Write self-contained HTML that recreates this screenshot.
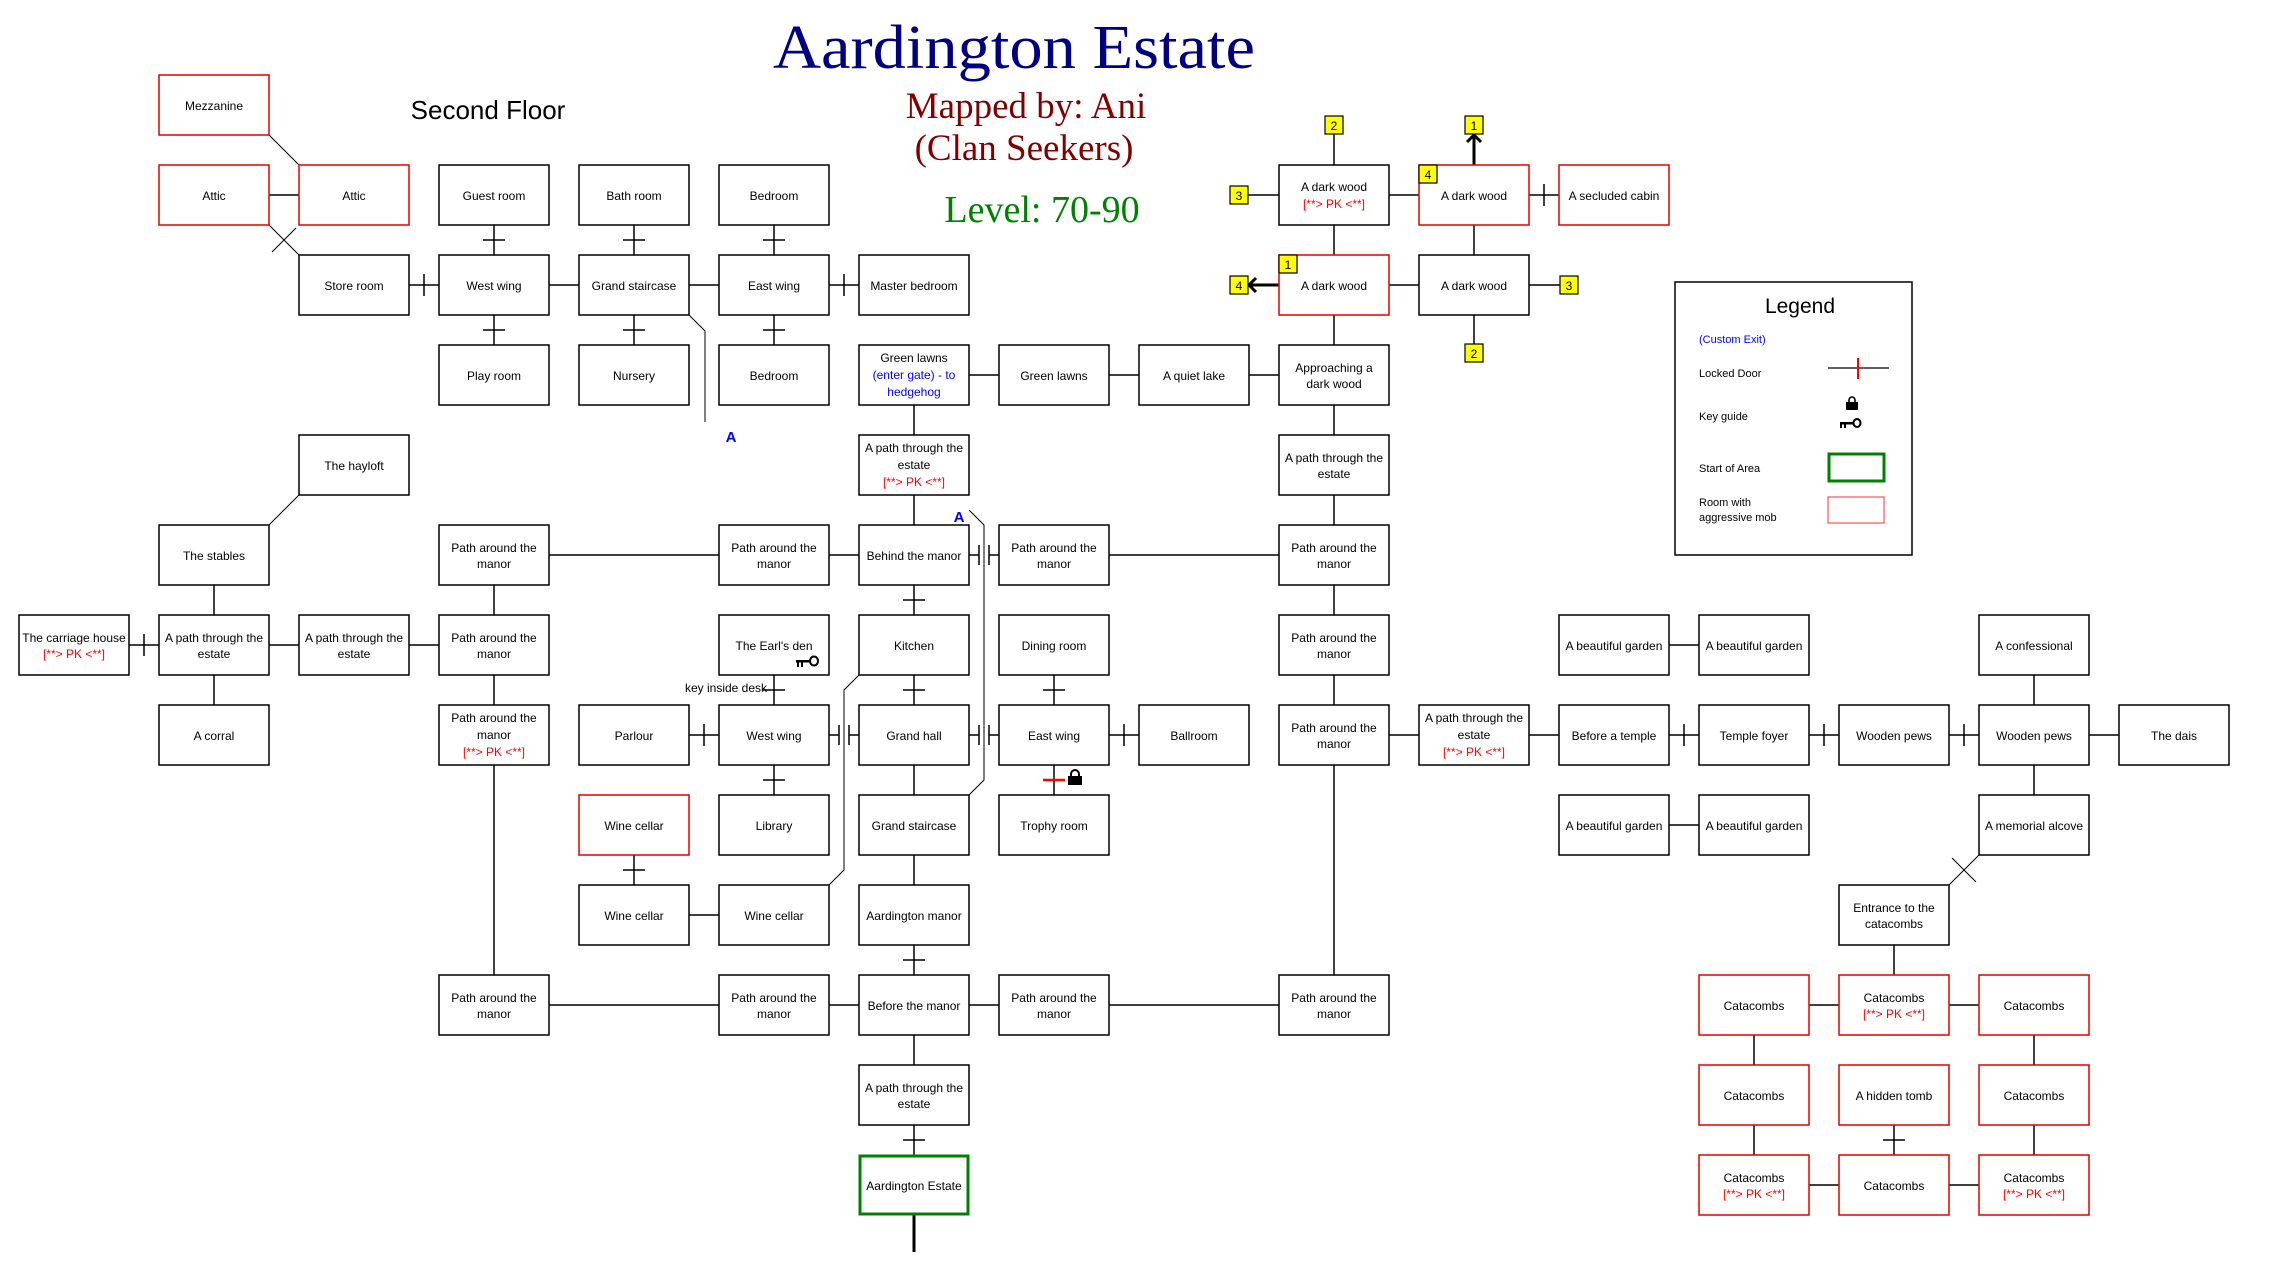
<!DOCTYPE html>
<html><head><meta charset="utf-8"><style>
html,body{margin:0;padding:0;background:#fff;}
svg{display:block;}
.b{fill:#fff;stroke:#000;stroke-width:1.5}
.r{fill:#fff;stroke:#e00000;stroke-width:1.5}
.t{font-family:"Liberation Sans",sans-serif;font-size:12px;text-anchor:middle;fill:#000}
.pk{fill:#f00}
.bl{fill:#00f}
.l{stroke:#000;stroke-width:1.5;fill:none}
.d{stroke:#000;stroke-width:1;fill:none}
.y{fill:#ff0;stroke:#000;stroke-width:1.2}
.yt{font-family:"Liberation Sans",sans-serif;font-size:12px;text-anchor:middle}
</style></head><body>
<svg width="2271" height="1281" viewBox="0 0 2271 1281" xmlns="http://www.w3.org/2000/svg">
<!-- titles -->
<text x="1014" y="68" text-anchor="middle" font-family="Liberation Serif,serif" font-size="62" fill="#000080" textLength="482" lengthAdjust="spacingAndGlyphs">Aardington Estate</text>
<text x="1026" y="118" text-anchor="middle" font-family="Liberation Serif,serif" font-size="37" fill="#800000">Mapped by: Ani</text>
<text x="1024" y="160" text-anchor="middle" font-family="Liberation Serif,serif" font-size="37" fill="#800000">(Clan Seekers)</text>
<text x="1042" y="222" text-anchor="middle" font-family="Liberation Serif,serif" font-size="38" fill="#008000">Level: 70-90</text>
<text x="488" y="119" text-anchor="middle" font-family="Liberation Sans,sans-serif" font-size="26" fill="#000">Second Floor</text>

<!-- connectors -->
<g class="l">
<path d="M269 195H299M1389 195H1419M1529 195H1559M1544 184V206"/>
<path d="M409 285H439M424 274V296M549 285H579M689 285H719M829 285H859M844 274V296M1389 285H1419"/>
<path d="M969 375H999M1109 375H1139M1249 375H1279"/>
<path d="M549 555H719M829 555H859M969 555H979M979 545V565M989 545V565M989 555H999M1109 555H1279"/>
<path d="M129 645H159M144 634V656M269 645H299M409 645H439M1669 645H1699"/>
<path d="M689 735H719M704 724V746M829 735H839M839 725V745M849 725V745M849 735H859M969 735H979M979 725V745M989 725V745M989 735H999M1109 735H1139M1124 724V746M1389 735H1419M1529 735H1559M1669 735H1699M1684 724V746M1809 735H1839M1824 724V746M1949 735H1979M1964 724V746M2089 735H2119"/>
<path d="M1669 825H1699M689 915H719"/>
<path d="M549 1005H719M829 1005H859M969 1005H999M1109 1005H1279M1809 1005H1839M1949 1005H1979"/>
<path d="M1809 1185H1839M1949 1185H1979"/>
<path d="M214 585V615M214 675V705"/>
<path d="M494 225V255M483 240H505M494 315V345M483 330H505M494 585V615M494 675V705M494 765V975"/>
<path d="M634 225V255M623 240H645M634 315V345M623 330H645M634 855V885M623 870H645"/>
<path d="M774 225V255M763 240H785M774 315V345M763 330H785M774 675V705M763 690H785M774 765V795M763 780H785"/>
<path d="M914 405V435M914 495V525M914 585V615M903 600H925M914 675V705M903 690H925M914 765V795M914 855V885M914 945V975M903 960H925M914 1035V1065M914 1125V1155M903 1140H925"/>
<path d="M1054 675V705M1043 690H1065M1054 765V795"/>
<path d="M1334 134V165M1334 225V255M1334 315V345M1334 405V435M1334 495V525M1334 585V615M1334 675V705M1334 765V975"/>
<path d="M1474 225V255M1474 315V344M1248 195H1279M1529 285H1560"/>
<path d="M1754 1035V1065M1754 1125V1155M1894 945V975M1894 1125V1155M1883 1140H1905M2034 675V705M2034 765V795M2034 1035V1065M2034 1125V1155"/>
</g>
<path d="M914 1215V1252" stroke="#000" stroke-width="3"/>
<path d="M1043 780H1065" stroke="#f00" stroke-width="2.5"/>
<g class="d">
<path d="M269 135L299 165M269 225L299 255M272 228L296 252M272 252L296 228"/>
<path d="M299 495L269 525"/>
<path d="M1979 855L1949 885M1952 858L1976 882M1952 882L1976 858"/>
<path d="M689 315L705 331V422"/>
<path d="M969 510L984 525V780L969 795"/>
<path d="M859 675L844 690V870L829 885"/>
</g>
<text x="731" y="442" text-anchor="middle" font-family="Liberation Sans,sans-serif" font-size="15" font-weight="bold" fill="#00f">A</text>
<text x="959" y="522" text-anchor="middle" font-family="Liberation Sans,sans-serif" font-size="15" font-weight="bold" fill="#00f">A</text>
<text x="726" y="692" text-anchor="middle" class="t" style="font-size:12px">key inside desk</text>

<path d="M1474 165V136M1467 142L1474 135L1481 142" stroke="#000" stroke-width="3" fill="none"/>
<path d="M1279 285H1250M1256 278L1249 285L1256 292" stroke="#000" stroke-width="3" fill="none"/>

<rect x="159" y="75" width="110" height="60" class="r"/><text x="214" y="110" class="t">Mezzanine</text>
<rect x="159" y="165" width="110" height="60" class="r"/><text x="214" y="200" class="t">Attic</text>
<rect x="299" y="165" width="110" height="60" class="r"/><text x="354" y="200" class="t">Attic</text>
<rect x="439" y="165" width="110" height="60" class="b"/><text x="494" y="200" class="t">Guest room</text>
<rect x="579" y="165" width="110" height="60" class="b"/><text x="634" y="200" class="t">Bath room</text>
<rect x="719" y="165" width="110" height="60" class="b"/><text x="774" y="200" class="t">Bedroom</text>
<rect x="1279" y="165" width="110" height="60" class="b"/><text x="1334" y="191" class="t">A dark wood</text><text x="1334" y="208" class="t pk">[**&gt; PK &lt;**]</text>
<rect x="1419" y="165" width="110" height="60" class="r"/><text x="1474" y="200" class="t">A dark wood</text>
<rect x="1559" y="165" width="110" height="60" class="r"/><text x="1614" y="200" class="t">A secluded cabin</text>

<rect x="299" y="255" width="110" height="60" class="b"/><text x="354" y="290" class="t">Store room</text>
<rect x="439" y="255" width="110" height="60" class="b"/><text x="494" y="290" class="t">West wing</text>
<rect x="579" y="255" width="110" height="60" class="b"/><text x="634" y="290" class="t">Grand staircase</text>
<rect x="719" y="255" width="110" height="60" class="b"/><text x="774" y="290" class="t">East wing</text>
<rect x="859" y="255" width="110" height="60" class="b"/><text x="914" y="290" class="t">Master bedroom</text>
<rect x="1279" y="255" width="110" height="60" class="r"/><text x="1334" y="290" class="t">A dark wood</text>
<rect x="1419" y="255" width="110" height="60" class="b"/><text x="1474" y="290" class="t">A dark wood</text>

<rect x="439" y="345" width="110" height="60" class="b"/><text x="494" y="380" class="t">Play room</text>
<rect x="579" y="345" width="110" height="60" class="b"/><text x="634" y="380" class="t">Nursery</text>
<rect x="719" y="345" width="110" height="60" class="b"/><text x="774" y="380" class="t">Bedroom</text>
<rect x="859" y="345" width="110" height="60" class="b"/><text x="914" y="362" class="t">Green lawns</text><text x="914" y="379" class="t bl">(enter gate) - to</text><text x="914" y="396" class="t bl">hedgehog</text>
<rect x="999" y="345" width="110" height="60" class="b"/><text x="1054" y="380" class="t">Green lawns</text>
<rect x="1139" y="345" width="110" height="60" class="b"/><text x="1194" y="380" class="t">A quiet lake</text>
<rect x="1279" y="345" width="110" height="60" class="b"/><text x="1334" y="372" class="t">Approaching a</text><text x="1334" y="388" class="t">dark wood</text>

<rect x="299" y="435" width="110" height="60" class="b"/><text x="354" y="470" class="t">The hayloft</text>
<rect x="859" y="435" width="110" height="60" class="b"/><text x="914" y="452" class="t">A path through the</text><text x="914" y="469" class="t">estate</text><text x="914" y="486" class="t pk">[**&gt; PK &lt;**]</text>
<rect x="1279" y="435" width="110" height="60" class="b"/><text x="1334" y="462" class="t">A path through the</text><text x="1334" y="478" class="t">estate</text>

<rect x="159" y="525" width="110" height="60" class="b"/><text x="214" y="560" class="t">The stables</text>
<rect x="439" y="525" width="110" height="60" class="b"/><text x="494" y="552" class="t">Path around the</text><text x="494" y="568" class="t">manor</text>
<rect x="719" y="525" width="110" height="60" class="b"/><text x="774" y="552" class="t">Path around the</text><text x="774" y="568" class="t">manor</text>
<rect x="859" y="525" width="110" height="60" class="b"/><text x="914" y="560" class="t">Behind the manor</text>
<rect x="999" y="525" width="110" height="60" class="b"/><text x="1054" y="552" class="t">Path around the</text><text x="1054" y="568" class="t">manor</text>
<rect x="1279" y="525" width="110" height="60" class="b"/><text x="1334" y="552" class="t">Path around the</text><text x="1334" y="568" class="t">manor</text>

<rect x="19" y="615" width="110" height="60" class="b"/><text x="74" y="642" class="t">The carriage house</text><text x="74" y="658" class="t pk">[**&gt; PK &lt;**]</text>
<rect x="159" y="615" width="110" height="60" class="b"/><text x="214" y="642" class="t">A path through the</text><text x="214" y="658" class="t">estate</text>
<rect x="299" y="615" width="110" height="60" class="b"/><text x="354" y="642" class="t">A path through the</text><text x="354" y="658" class="t">estate</text>
<rect x="439" y="615" width="110" height="60" class="b"/><text x="494" y="642" class="t">Path around the</text><text x="494" y="658" class="t">manor</text>
<rect x="719" y="615" width="110" height="60" class="b"/><text x="774" y="650" class="t">The Earl's den</text>
<rect x="859" y="615" width="110" height="60" class="b"/><text x="914" y="650" class="t">Kitchen</text>
<rect x="999" y="615" width="110" height="60" class="b"/><text x="1054" y="650" class="t">Dining room</text>
<rect x="1279" y="615" width="110" height="60" class="b"/><text x="1334" y="642" class="t">Path around the</text><text x="1334" y="658" class="t">manor</text>
<rect x="1559" y="615" width="110" height="60" class="b"/><text x="1614" y="650" class="t">A beautiful garden</text>
<rect x="1699" y="615" width="110" height="60" class="b"/><text x="1754" y="650" class="t">A beautiful garden</text>
<rect x="1979" y="615" width="110" height="60" class="b"/><text x="2034" y="650" class="t">A confessional</text>

<rect x="159" y="705" width="110" height="60" class="b"/><text x="214" y="740" class="t">A corral</text>
<rect x="439" y="705" width="110" height="60" class="b"/><text x="494" y="722" class="t">Path around the</text><text x="494" y="739" class="t">manor</text><text x="494" y="756" class="t pk">[**&gt; PK &lt;**]</text>
<rect x="579" y="705" width="110" height="60" class="b"/><text x="634" y="740" class="t">Parlour</text>
<rect x="719" y="705" width="110" height="60" class="b"/><text x="774" y="740" class="t">West wing</text>
<rect x="859" y="705" width="110" height="60" class="b"/><text x="914" y="740" class="t">Grand hall</text>
<rect x="999" y="705" width="110" height="60" class="b"/><text x="1054" y="740" class="t">East wing</text>
<rect x="1139" y="705" width="110" height="60" class="b"/><text x="1194" y="740" class="t">Ballroom</text>
<rect x="1279" y="705" width="110" height="60" class="b"/><text x="1334" y="732" class="t">Path around the</text><text x="1334" y="748" class="t">manor</text>
<rect x="1419" y="705" width="110" height="60" class="b"/><text x="1474" y="722" class="t">A path through the</text><text x="1474" y="739" class="t">estate</text><text x="1474" y="756" class="t pk">[**&gt; PK &lt;**]</text>
<rect x="1559" y="705" width="110" height="60" class="b"/><text x="1614" y="740" class="t">Before a temple</text>
<rect x="1699" y="705" width="110" height="60" class="b"/><text x="1754" y="740" class="t">Temple foyer</text>
<rect x="1839" y="705" width="110" height="60" class="b"/><text x="1894" y="740" class="t">Wooden pews</text>
<rect x="1979" y="705" width="110" height="60" class="b"/><text x="2034" y="740" class="t">Wooden pews</text>
<rect x="2119" y="705" width="110" height="60" class="b"/><text x="2174" y="740" class="t">The dais</text>

<rect x="579" y="795" width="110" height="60" class="r"/><text x="634" y="830" class="t">Wine cellar</text>
<rect x="719" y="795" width="110" height="60" class="b"/><text x="774" y="830" class="t">Library</text>
<rect x="859" y="795" width="110" height="60" class="b"/><text x="914" y="830" class="t">Grand staircase</text>
<rect x="999" y="795" width="110" height="60" class="b"/><text x="1054" y="830" class="t">Trophy room</text>
<rect x="1559" y="795" width="110" height="60" class="b"/><text x="1614" y="830" class="t">A beautiful garden</text>
<rect x="1699" y="795" width="110" height="60" class="b"/><text x="1754" y="830" class="t">A beautiful garden</text>
<rect x="1979" y="795" width="110" height="60" class="b"/><text x="2034" y="830" class="t">A memorial alcove</text>

<rect x="579" y="885" width="110" height="60" class="b"/><text x="634" y="920" class="t">Wine cellar</text>
<rect x="719" y="885" width="110" height="60" class="b"/><text x="774" y="920" class="t">Wine cellar</text>
<rect x="859" y="885" width="110" height="60" class="b"/><text x="914" y="920" class="t">Aardington manor</text>
<rect x="1839" y="885" width="110" height="60" class="b"/><text x="1894" y="912" class="t">Entrance to the</text><text x="1894" y="928" class="t">catacombs</text>

<rect x="439" y="975" width="110" height="60" class="b"/><text x="494" y="1002" class="t">Path around the</text><text x="494" y="1018" class="t">manor</text>
<rect x="719" y="975" width="110" height="60" class="b"/><text x="774" y="1002" class="t">Path around the</text><text x="774" y="1018" class="t">manor</text>
<rect x="859" y="975" width="110" height="60" class="b"/><text x="914" y="1010" class="t">Before the manor</text>
<rect x="999" y="975" width="110" height="60" class="b"/><text x="1054" y="1002" class="t">Path around the</text><text x="1054" y="1018" class="t">manor</text>
<rect x="1279" y="975" width="110" height="60" class="b"/><text x="1334" y="1002" class="t">Path around the</text><text x="1334" y="1018" class="t">manor</text>
<rect x="1699" y="975" width="110" height="60" class="r"/><text x="1754" y="1010" class="t">Catacombs</text>
<rect x="1839" y="975" width="110" height="60" class="r"/><text x="1894" y="1002" class="t">Catacombs</text><text x="1894" y="1018" class="t pk">[**&gt; PK &lt;**]</text>
<rect x="1979" y="975" width="110" height="60" class="r"/><text x="2034" y="1010" class="t">Catacombs</text>

<rect x="859" y="1065" width="110" height="60" class="b"/><text x="914" y="1092" class="t">A path through the</text><text x="914" y="1108" class="t">estate</text>
<rect x="1699" y="1065" width="110" height="60" class="r"/><text x="1754" y="1100" class="t">Catacombs</text>
<rect x="1839" y="1065" width="110" height="60" class="r"/><text x="1894" y="1100" class="t">A hidden tomb</text>
<rect x="1979" y="1065" width="110" height="60" class="r"/><text x="2034" y="1100" class="t">Catacombs</text>

<rect x="860" y="1156" width="108" height="58" fill="#fff" stroke="#008000" stroke-width="3"/><text x="914" y="1190" class="t">Aardington Estate</text>
<rect x="1699" y="1155" width="110" height="60" class="r"/><text x="1754" y="1182" class="t">Catacombs</text><text x="1754" y="1198" class="t pk">[**&gt; PK &lt;**]</text>
<rect x="1839" y="1155" width="110" height="60" class="r"/><text x="1894" y="1190" class="t">Catacombs</text>
<rect x="1979" y="1155" width="110" height="60" class="r"/><text x="2034" y="1182" class="t">Catacombs</text><text x="2034" y="1198" class="t pk">[**&gt; PK &lt;**]</text>

<rect x="1325" y="116" width="18" height="18" class="y"/><text x="1334" y="130" class="yt">2</text>
<rect x="1230" y="186" width="18" height="18" class="y"/><text x="1239" y="200" class="yt">3</text>
<rect x="1465" y="116" width="18" height="18" class="y"/><text x="1474" y="130" class="yt">1</text>
<rect x="1419" y="165" width="18" height="18" class="y"/><text x="1428" y="179" class="yt">4</text>
<rect x="1279" y="255" width="18" height="18" class="y"/><text x="1288" y="269" class="yt">1</text>
<rect x="1230" y="276" width="18" height="18" class="y"/><text x="1239" y="290" class="yt">4</text>
<rect x="1560" y="276" width="18" height="18" class="y"/><text x="1569" y="290" class="yt">3</text>
<rect x="1465" y="344" width="18" height="18" class="y"/><text x="1474" y="358" class="yt">2</text>

<g fill="#000">
<rect x="796" y="660" width="14" height="2.5"/><rect x="797" y="660" width="2" height="7"/><rect x="801" y="660" width="2" height="7"/>
</g>
<ellipse cx="814" cy="661" rx="4" ry="4.5" fill="none" stroke="#000" stroke-width="2"/>
<path d="M1071 777V774a4 4 0 0 1 8 0V777" fill="none" stroke="#000" stroke-width="2"/>
<rect x="1068" y="776" width="14" height="9" fill="#000"/>

<rect x="1675" y="282" width="237" height="273" fill="#fff" stroke="#000" stroke-width="1.5"/>
<text x="1800" y="313" text-anchor="middle" font-family="Liberation Sans,sans-serif" font-size="21">Legend</text>
<text x="1699" y="343" font-family="Liberation Sans,sans-serif" font-size="11" fill="#00f">(Custom Exit)</text>
<text x="1699" y="377" font-family="Liberation Sans,sans-serif" font-size="11">Locked Door</text>
<path d="M1828 368H1889" stroke="#000" stroke-width="1.2"/>
<path d="M1858 358V379" stroke="#f00" stroke-width="2"/>
<text x="1699" y="420" font-family="Liberation Sans,sans-serif" font-size="11">Key guide</text>
<path d="M1849 403V400a3 3 0 0 1 6 0V403" fill="none" stroke="#000" stroke-width="1.6"/>
<rect x="1846" y="402" width="12" height="8" fill="#000"/>
<rect x="1840" y="422" width="13" height="2.5" fill="#000"/><rect x="1840" y="422" width="2" height="6" fill="#000"/><rect x="1844" y="422" width="2" height="6" fill="#000"/>
<ellipse cx="1857" cy="423" rx="3.5" ry="4" fill="none" stroke="#000" stroke-width="2"/>
<text x="1699" y="472" font-family="Liberation Sans,sans-serif" font-size="11">Start of Area</text>
<rect x="1829" y="454" width="55" height="27" fill="#fff" stroke="#008000" stroke-width="3"/>
<text x="1699" y="506" font-family="Liberation Sans,sans-serif" font-size="11">Room with</text>
<text x="1699" y="521" font-family="Liberation Sans,sans-serif" font-size="11">aggressive mob</text>
<rect x="1828" y="497" width="56" height="26" fill="#fff" stroke="#e33" stroke-width="1"/>
</svg>
</body></html>
